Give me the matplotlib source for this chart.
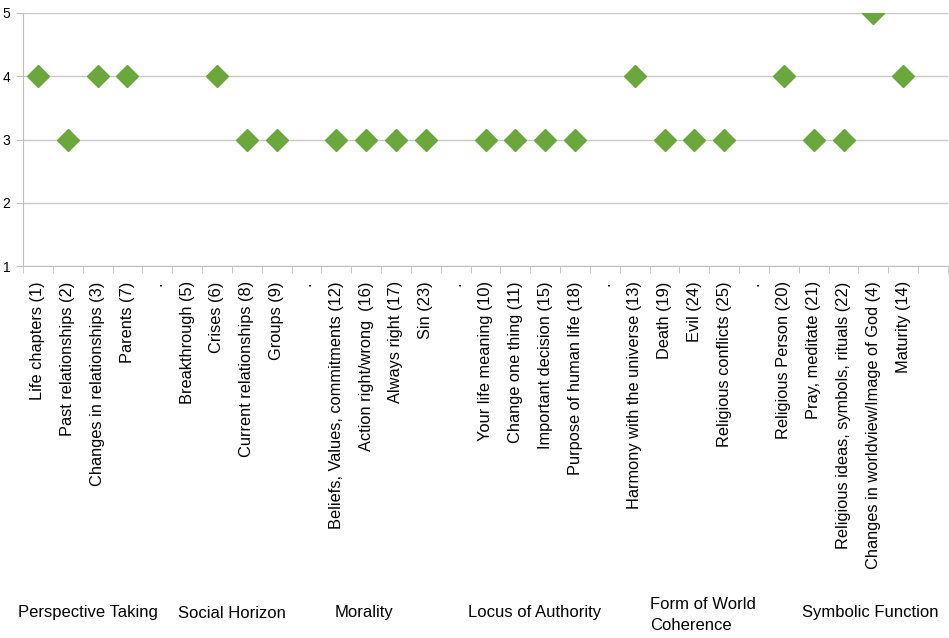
import numpy as np
import matplotlib
matplotlib.use("Agg")
from matplotlib import pyplot as plt

items = [
    "Life chapters (1)", "Past relationships (2)", "Changes in relationships (3)", "Parents (7)", ".",
    "Breakthrough (5)", "Crises (6)", "Current relationships (8)", "Groups (9)", ".",
    "Beliefs, Values, commitments (12)", "Action right/wrong  (16)", "Always right (17)", "Sin (23)", ".",
    "Your life meaning (10)", "Change one thing (11)", "Important decision (15)", "Purpose of human life (18)", ".",
    "Harmony with the universe (13)", "Death (19)", "Evil (24)", "Religious conflicts (25)", ".",
    "Religious Person (20)", "Pray, meditate (21)", "Religious ideas, symbols, rituals (22)",
    "Changes in worldview/Image of God (4)", "Maturity (14)", "",
]
scores = [
    4, 3, 4, 4, np.nan,
    np.nan, 4, 3, 3, np.nan,
    3, 3, 3, 3, np.nan,
    3, 3, 3, 3, np.nan,
    4, 3, 3, 3, np.nan,
    4, 3, 3, 5, 4, np.nan,
]
groups = ["Perspective Taking", "Social Horizon", "Morality", "Locus of Authority",
          "Form of World\nCoherence", "Symbolic Function"]
group_x = [88, 232, 364, 535, 650, 870]  # pixel centres (Form of World is left aligned)
yticks = [1, 2, 3, 4, 5]

plt.rcParams["font.family"] = ["Liberation Sans", "DejaVu Sans"]

fig = plt.figure(figsize=(9.49, 6.38), dpi=100)
ax = fig.add_axes([23 / 949, 1 - 266 / 638, 925 / 949, 253 / 638])

x = np.arange(len(items))
ax.plot(x, scores, linestyle="none", marker="D", markersize=11,
        color="#6aa83b", markeredgecolor="#6aa83b", zorder=3)

ax.set_xlim(-0.5, len(items) - 0.5)
ax.set_ylim(1, 5)
ax.set_yticks(yticks)
ax.set_yticklabels([str(v) for v in yticks], fontsize=10)
ax.set_xticks(x)
ax.set_xticklabels(items, rotation=90, fontsize=11.8, va="top", ha="center")
ax.set_xticks(np.arange(len(items) + 1) - 0.5, minor=True)
ax.tick_params(axis="x", which="major", length=0, pad=11)
ax.tick_params(axis="x", which="minor", length=5, color="#bfbfbf", direction="out")
ax.tick_params(axis="y", length=5, color="#bfbfbf", pad=4)

ax.grid(axis="y", color="#c8c8c8", linewidth=1)
ax.set_axisbelow(True)
for side in ["top", "right"]:
    ax.spines[side].set_visible(False)
for side in ["left", "bottom"]:
    ax.spines[side].set_color("#bfbfbf")

for label, gx in zip(groups, group_x):
    if "\n" in label:
        fig.text(gx / 949, 1 - 615 / 638, label, ha="left", va="center",
                 fontsize=12, linespacing=1.45)
    else:
        fig.text(gx / 949, 1 - 613 / 638, label, ha="center", va="center", fontsize=12)

fig.savefig("out.png", dpi=100)
